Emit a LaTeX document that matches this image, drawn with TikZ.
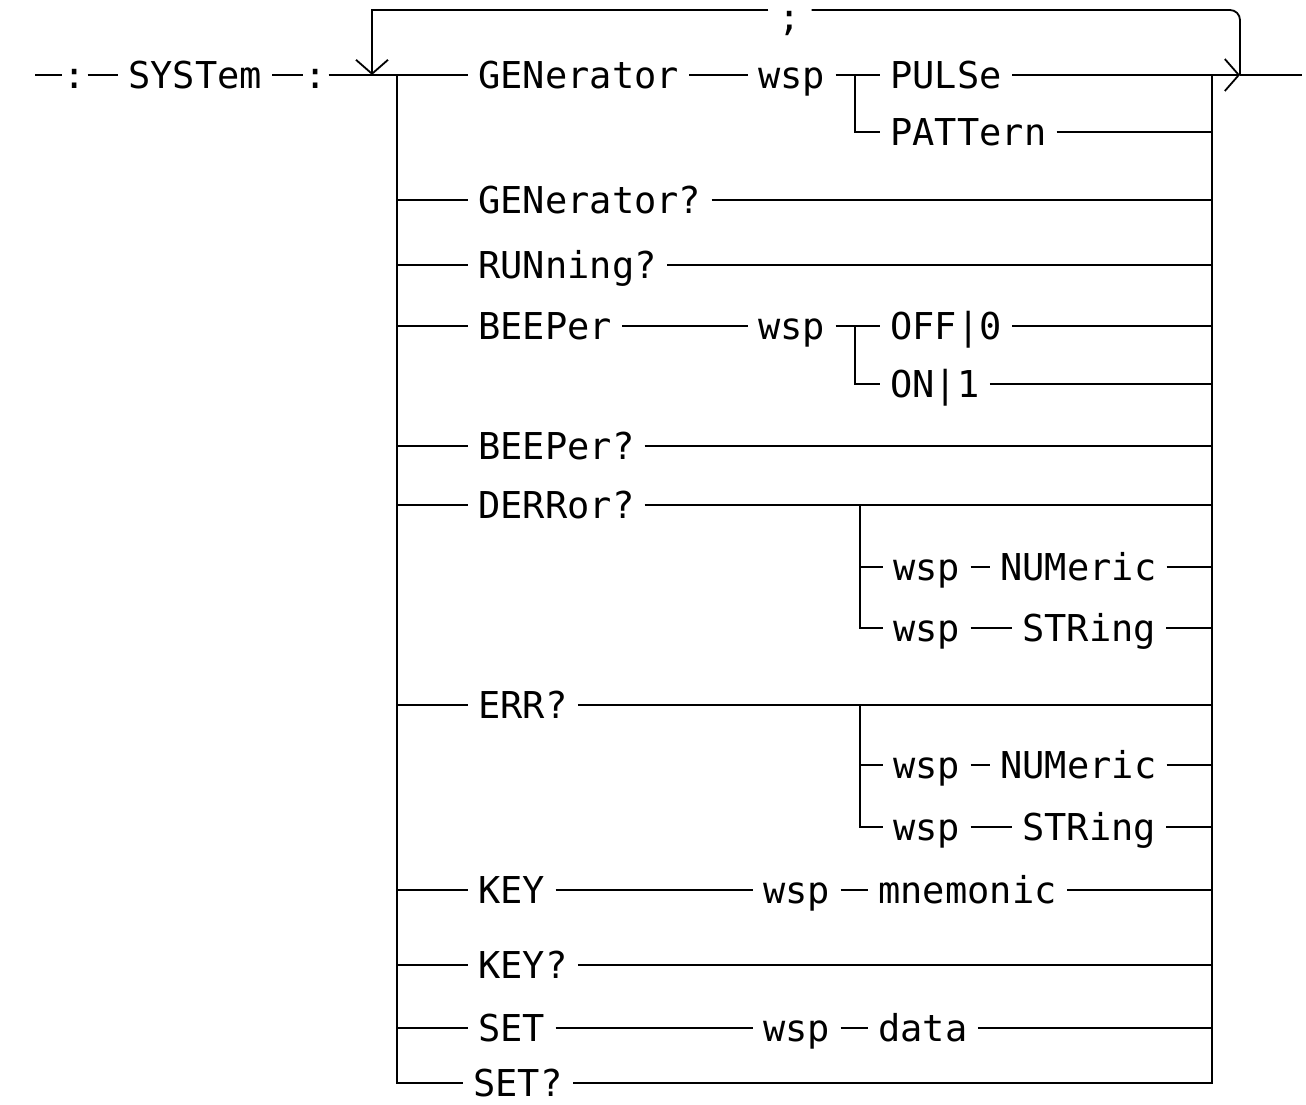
\documentclass[tikz,border=0pt]{standalone}
\usepackage{fontspec}
\newfontfamily\plotfont{DejaVu Sans Mono}
\usetikzlibrary{arrows.meta}
\tikzstyle{word} = [font=\plotfont\fontsize{18.5}{20}\selectfont, inner xsep=5pt, inner ysep=0pt, text height=13.5pt, text depth=0pt, anchor=west]
\tikzstyle{colon} = [word, inner xsep=0.5pt, anchor=center]
\tikzstyle{wire} = [line width=0.9pt, draw=black]
\tikzstyle{arrow} = [wire, -{Straight Barb[length=7pt,width=16pt]}]

\begin{document}
\begin{tikzpicture}[x=0.5pt, y=-0.5pt]
        \useasboundingbox (0,0) rectangle (1306,1104);
        % entry and buses
        \coordinate (start) at (35,75);
        \coordinate (join) at (372,75);
        \coordinate (loop) at (372,10);
        \coordinate (lbus) at (397,75);
        \coordinate (rbus) at (1212,75);
        \coordinate (exit) at (1240,75);
        \coordinate (stop) at (1302,75);
        \node (cola) [colon] at (75,75) {:};
        \node (sys) [word] at (118,75) {SYSTem};
        \node (colb) [colon] at (316,75) {:};
        \node (semi) [word, anchor=center] at (790,17) {;};

        % GENerator
        \node (gen) [word] at (468,75) {GENerator};
        \node (wspa) [word] at (748,75) {wsp};
        \coordinate (bra) at (855,75);
        \node (pulse) [word] at (880,75) {PULSe};
        \node (patt) [word] at (880,132) {PATTern};
        \node (genq) [word] at (468,200) {GENerator?};
        \node (run) [word] at (468,265) {RUNning?};

        % BEEPer
        \node (beep) [word] at (468,326) {BEEPer};
        \node (wspb) [word] at (748,326) {wsp};
        \coordinate (brb) at (855,326);
        \node (off) [word] at (880,326) {OFF|0};
        \node (on) [word] at (880,384) {ON|1};
        \node (beepq) [word] at (468,446) {BEEPer?};

        % DERRor? and ERR?
        \node (derr) [word] at (468,505) {DERRor?};
        \coordinate (brc) at (860,505);
        \node (wspc) [word] at (883,567) {wsp};
        \node (numc) [word] at (990,567) {NUMeric};
        \node (wspd) [word] at (883,628) {wsp};
        \node (strd) [word] at (1012,628) {STRing};
        \node (err) [word] at (468,705) {ERR?};
        \coordinate (brd) at (860,705);
        \node (wspe) [word] at (883,765) {wsp};
        \node (nume) [word] at (990,765) {NUMeric};
        \node (wspf) [word] at (883,827) {wsp};
        \node (strf) [word] at (1012,827) {STRing};

        % KEY and SET
        \node (key) [word] at (468,890) {KEY};
        \node (wspg) [word] at (753,890) {wsp};
        \node (mnem) [word] at (868,890) {mnemonic};
        \node (keyq) [word] at (468,965) {KEY?};
        \node (set) [word] at (468,1028) {SET};
        \node (wsph) [word] at (753,1028) {wsp};
        \node (data) [word] at (868,1028) {data};
        \node (setq) [word] at (463,1083) {SET?};

        % main line and loop
        \draw [wire] (start) -- (cola);
        \draw [wire] (cola) -- (sys);
        \draw [wire] (sys) -- (colb);
        \draw [wire] (colb) -- (gen);
        \draw [wire] (gen) -- (wspa);
        \draw [wire] (wspa) -- (pulse);
        \draw [arrow] (pulse) -- (exit);
        \draw [wire] (exit) -- (stop);
        \draw [wire, rounded corners=5pt] (exit) |- (semi.east |- loop);
        \draw [arrow] (semi.west |- loop) -| (join);
        \draw [wire] (lbus) |- (setq.west);
        \draw [wire] (rbus) |- (setq.east);

        % branches
        \draw [wire] (bra) |- (patt.west);
        \draw [wire] (beep) -- (wspb);
        \draw [wire] (wspb) -- (off);
        \draw [wire] (brb) |- (on.west);
        \draw [wire] (brc) |- (wspc.west);
        \draw [wire] (brc) |- (wspd.west);
        \draw [wire] (wspc) -- (numc);
        \draw [wire] (wspd) -- (strd);
        \draw [wire] (brd) |- (wspe.west);
        \draw [wire] (brd) |- (wspf.west);
        \draw [wire] (wspe) -- (nume);
        \draw [wire] (wspf) -- (strf);
        \draw [wire] (key) -- (wspg);
        \draw [wire] (wspg) -- (mnem);
        \draw [wire] (set) -- (wsph);
        \draw [wire] (wsph) -- (data);

        % ties to the buses
        \foreach \n in {genq,run,beep,beepq,derr,err,key,keyq,set}
            \draw [wire] (\n.west -| lbus) -- (\n.west);
        \foreach \n in {patt,genq,run,off,on,beepq,derr,err,numc,strd,nume,strf,mnem,keyq,data}
            \draw [wire] (\n.east) -- (\n.east -| rbus);
    \end{tikzpicture}
\end{document}
